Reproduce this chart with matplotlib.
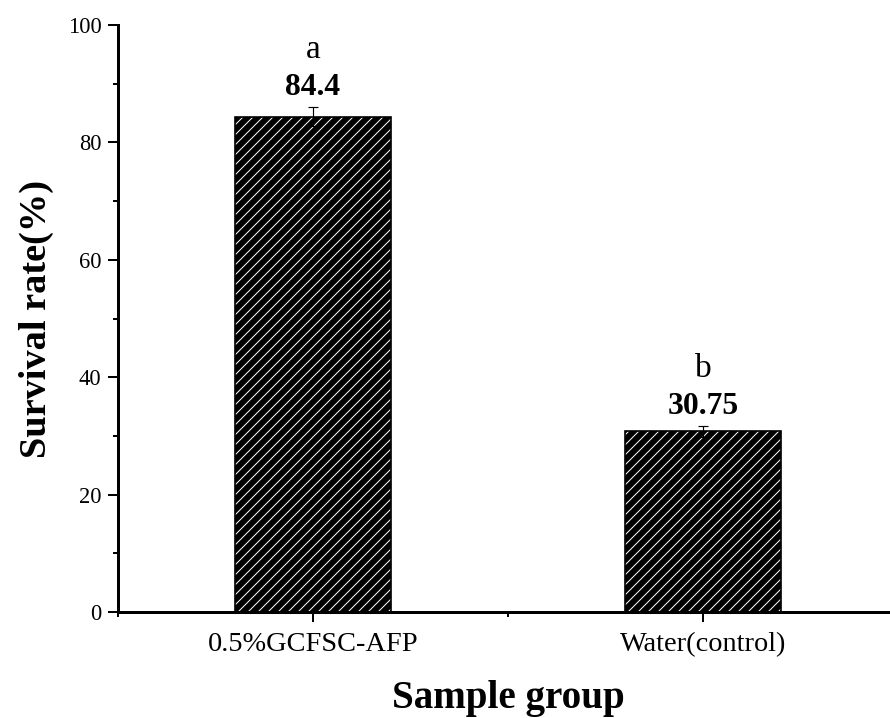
import numpy as np
import matplotlib
matplotlib.use('Agg')
import matplotlib.pyplot as plt
from matplotlib.ticker import MultipleLocator, FixedLocator

# data
groups = ['0.5%GCFSC-AFP', 'Water(control)']
survival = [84.4, 30.75]
errors = [1.6, 0.9]
value_labels = ['84.4', '30.75']
letters = ['a', 'b']

plt.rcParams['font.family'] = ['Liberation Serif', 'DejaVu Serif']
plt.rcParams['hatch.linewidth'] = 0.6

DPI = 120
fig = plt.figure(figsize=(890 / DPI, 718 / DPI), dpi=DPI)
ax = fig.add_axes([118 / 890, 1 - 612 / 718, 780 / 890, 587 / 718])

x = np.arange(1, len(groups) + 1)
width = 0.4

# hatched fill (white hatch on black) then a black outline
ax.bar(x, survival, width, color='black', edgecolor='white', hatch='////',
       linewidth=0, zorder=2)
ax.bar(x, survival, width, fill=False, edgecolor='black', linewidth=1.0,
       zorder=3)
ax.errorbar(x, survival, yerr=errors, fmt='none', ecolor='black',
            elinewidth=0.7, capsize=3, capthick=0.7, zorder=4)

for xi, v, e, lab, let in zip(x, survival, errors, value_labels, letters):
    ax.text(xi, v + e + 3.3, lab, ha='center', va='center',
            fontsize=19, fontweight='bold')
    ax.text(xi, v + e + 9.8, let, ha='center', va='center', fontsize=20)

ax.set_xlim(0.5, 2.5)
ax.set_ylim(0, 100)

ax.xaxis.set_major_locator(FixedLocator(x))
ax.set_xticklabels(groups, fontsize=17)
ax.xaxis.set_minor_locator(FixedLocator([0.5, 1.5, 2.5]))
ax.yaxis.set_major_locator(MultipleLocator(20))
ax.yaxis.set_minor_locator(MultipleLocator(10))
for lab in ax.get_yticklabels():
    lab.set_fontsize(13.5)

ax.tick_params(axis='both', which='major', direction='out', length=6,
               width=1.2, pad=4)
ax.tick_params(axis='both', which='minor', direction='out', length=3,
               width=1.2)
ax.tick_params(axis='x', which='major', pad=6)

for side in ['top', 'right']:
    ax.spines[side].set_visible(False)
for side in ['left', 'bottom']:
    ax.spines[side].set_linewidth(1.8)

ax.set_ylabel('Survival rate(%)', fontsize=23, fontweight='bold')
ax.yaxis.label.set_va('center')
ax.yaxis.set_label_coords(-0.105, 0.5)

ax.set_xlabel('Sample group', fontsize=23.5, fontweight='bold')
ax.xaxis.label.set_va('baseline')
ax.xaxis.set_label_coords(0.5, -0.163)

fig.savefig('out.png', dpi=DPI)
